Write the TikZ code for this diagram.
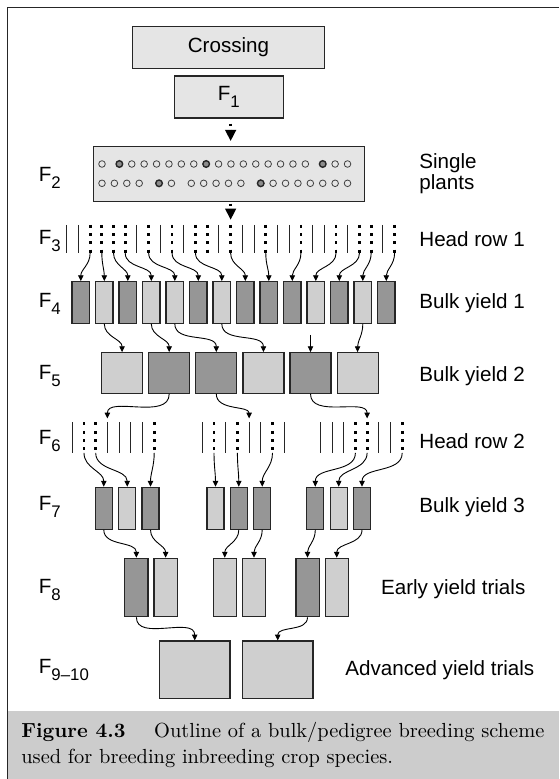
\documentclass[tikz,border=0pt]{standalone}
\usepackage{fontspec}
\setsansfont{Liberation Sans}
\usetikzlibrary{arrows.meta}

\newcommand{\gen}[1]{F\raisebox{-3.6pt}{\fontsize{8.4}{9}\selectfont #1}}

\begin{document}
\begin{tikzpicture}[
  x=0.5pt, y=-0.5pt,
  every node/.style={font=\sffamily\fontsize{10.3}{12.4}\selectfont},
  >={Triangle[length=2.9pt, width=2.7pt]},
  frame/.style={draw=black!85, line width=0.7pt},
  topbox/.style={draw=black!85, line width=0.55pt, fill=black!10, inner sep=0pt},
  plot/.style={draw=black!85, line width=0.6pt, inner sep=0pt},
  dark/.style={fill=black!41},
  light/.style={fill=black!19},
  yield1/.style={plot, minimum width=8.75pt, minimum height=20.8pt},
  yield2/.style={plot, minimum width=20.5pt, minimum height=20.3pt},
  yield3/.style={plot, minimum width=8.5pt, minimum height=21pt},
  early/.style={plot, minimum width=11.6pt, minimum height=29.2pt},
  advanced/.style={plot, light, minimum width=35.3pt, minimum height=28.65pt},
  slot/.style={inner sep=0pt, outer sep=0pt, minimum size=0pt, minimum height=#1},
  headrow/.style={draw=black!85, line width=0.5pt},
  picked/.style={draw=black, line width=1.4pt, dash pattern=on 1.4pt off 2.75pt},
  seed/.style={draw=black!75, line width=0.4pt},
  seedsel/.style={draw=black!85, fill=black!45, line width=0.7pt},
  select/.style={->, draw=black, line width=0.45pt, out=-90, in=90},
  bigarrow/.style={draw=black, line width=1.4pt, dash pattern=on 1.4pt off 1.6pt,
    -{Triangle[length=5.6pt, width=5.2pt]}, shorten >=2.5pt},
  gen/.style={anchor=west, inner sep=0pt},
  stage/.style={anchor=west, inner sep=0pt, align=left}
]
\useasboundingbox (0,0) rectangle (559,779);

% frame and caption band
\draw[frame] (559,7.3) -- (7.5,7.3) -- (7.5,779);
\fill[black!20] (8.3,710.7) rectangle (559,779);
\node[anchor=base west, inner sep=0pt, font=\rmfamily\fontsize{10.2}{13}\selectfont]
  (cap1) at (21,737) {\textbf{Figure 4.3}\hspace{1.4em}Outline of a bulk/pedigree breeding scheme};
\node[anchor=base west, inner sep=0pt, font=\rmfamily\fontsize{10.2}{13}\selectfont]
  (cap2) at (21,763) {used for breeding inbreeding crop species.};

% crossing, F1, F2
\node[topbox, minimum width=95.9pt, minimum height=20.8pt] (cross) at (228.5,47.5) {Crossing};
\node[topbox, minimum width=54.4pt, minimum height=21pt] (f1) at (228.8,97) {\gen{1}};
\node[topbox, minimum width=135.4pt, minimum height=27.2pt] (f2) at (228.8,173.9) {};

% single plants
\foreach \u in {0,2.4,3.4,4.4,5.4,6.4,7.4,9.4,10.4,11.4,12.4,13.4,14.4,15.4,16.4,18.8,19.8}
  \draw[seed] ({102+12.4*\u},164) circle[radius=1.65pt];
\foreach \u in {1.4,8.4,17.8}
  \draw[seedsel] ({102+12.4*\u},164) circle[radius=1.65pt];
\foreach \u in {0,1,2,3,5.6,7.2,8.2,9.2,10.2,11.2,13.8,14.8,15.8,16.8,17.8,18.8,19.8}
  \draw[seed] ({102+12.4*\u},183.3) circle[radius=1.65pt];
\foreach \u in {4.6,12.8}
  \draw[seedsel] ({102+12.4*\u},183.3) circle[radius=1.65pt];

% head row 1
\foreach \s [count=\i] in {headrow,headrow,picked,picked,picked,picked,headrow,picked,
    headrow,picked,headrow,picked,picked,headrow,picked,headrow,headrow,picked,headrow,
    headrow,picked,headrow,headrow,picked,headrow,picked,picked,headrow,picked}
{
  \node[slot=14.15pt] (h3-\i) at ({66.7+11.71*(\i-1)},239) {};
  \draw[\s] (h3-\i.north) -- (h3-\i.south);
}

% bulk yield 1
\foreach \c [count=\j] in {dark,light,dark,light,light,dark,light,dark,dark,dark,light,dark,light,dark}
  \node[yield1,\c] (b4-\j) at ({80.8+23.5*(\j-1)},302.5) {};

% bulk yield 2
\foreach \c [count=\j] in {light,dark,dark,light,dark,light}
  \node[yield2,\c] (b5-\j) at ({122.1+47.1*(\j-1)},373) {};

% head row 2
\foreach \s [count=\i] in {headrow,picked,picked,headrow,headrow,headrow,headrow,picked}
{
  \node[slot=15.25pt] (h6-\i) at ({72.3+11.7*(\i-1)},437.7) {};
  \draw[\s] (h6-\i.north) -- (h6-\i.south);
}
\foreach \s [count=\i from 9] in {headrow,picked,headrow,picked,headrow,headrow,picked,headrow}
{
  \node[slot=15.25pt] (h6-\i) at ({202.3+11.7*(\i-9)},437.7) {};
  \draw[\s] (h6-\i.north) -- (h6-\i.south);
}
\foreach \s [count=\i from 17] in {headrow,headrow,headrow,picked,picked,headrow,headrow,picked}
{
  \node[slot=15.25pt] (h6-\i) at ({320.3+11.7*(\i-17)},437.7) {};
  \draw[\s] (h6-\i.north) -- (h6-\i.south);
}

% bulk yield 3
\foreach \x/\c [count=\k] in {103.8/dark,127.2/light,150.5/dark,215.5/light,238.8/dark,
    262.2/dark,315.3/dark,338.7/light,362/dark}
  \node[yield3,\c] (b7-\k) at (\x,508.3) {};

% early and advanced yield trials
\foreach \x/\c [count=\k] in {136.4/dark,165.6/light,224.8/light,254/light,307.5/dark,336.7/light}
  \node[early,\c] (b8-\k) at (\x,587.5) {};
\node[advanced] (b9-1) at (194.7,669.7) {};
\node[advanced] (b9-2) at (277.7,669.7) {};

% generation labels
\node[gen] (g2) at (38.5,178) {\gen{2}};
\node[gen] (g3) at (38.5,241) {\gen{3}};
\node[gen] (g4) at (38.5,304) {\gen{4}};
\node[gen] (g5) at (38.5,376) {\gen{5}};
\node[gen] (g6) at (38.5,441) {\gen{6}};
\node[gen] (g7) at (38.5,507) {\gen{7}};
\node[gen] (g8) at (38.5,590) {\gen{8}};
\node[gen] (g9) at (38.5,670) {\gen{9–10}};

% stage labels
\node[stage, font=\sffamily\fontsize{10.3}{10.6}\selectfont] (s2) at (419,173.3) {Single\\plants};
\node[stage] (s3) at (419,239) {Head row 1};
\node[stage] (s4) at (419,303) {Bulk yield 1};
\node[stage] (s5) at (419,376) {Bulk yield 2};
\node[stage] (s6) at (419,441) {Head row 2};
\node[stage] (s7) at (419,506.7) {Bulk yield 3};
\node[stage] (s8) at (380.7,589) {Early yield trials};
\node[stage] (s9) at (345,670) {Advanced yield trials};

% big arrows
\draw[bigarrow] ([yshift=-2.5pt]f1.south -| h3-15) -- (f2.north -| h3-15);
\draw[bigarrow] ([yshift=-1pt]f2.south -| h3-15) -- (h3-15.north);

% selections
\foreach \a/\b in {3/1,4/2,5/3,6/4,8/5,10/6,12/7,15/8,18/9,21/10,24/11,26/12,27/13,29/14}
  \draw[select] (h3-\a.south) to (b4-\b.north);
\foreach \a/\b in {2/1,4/2,5/3,7/4,13/6}
  \draw[select] (b4-\a.south) to (b5-\b.north);
\coordinate (free) at (310.5,335);
\draw[->, line width=0.45pt] (free) -- (b5-5.north);
\foreach \a/\b in {2/4,3/13,5/21}
  \draw[select, shorten >=2pt] (b5-\a.south) to (h6-\b.north);
\foreach \a/\b in {2/1,3/2,8/3,10/4,12/5,15/6,20/7,21/8,24/9}
  \draw[select] (h6-\a.south) to (b7-\b.north);
\foreach \a/\b in {1/1,3/2,5/3,6/4,7/5,9/6}
  \draw[select] (b7-\a.south) to (b8-\b.north);
\foreach \a/\b in {1/1,5/2}
  \draw[select] (b8-\a.south) to (b9-\b.north);
\end{tikzpicture}
\end{document}
